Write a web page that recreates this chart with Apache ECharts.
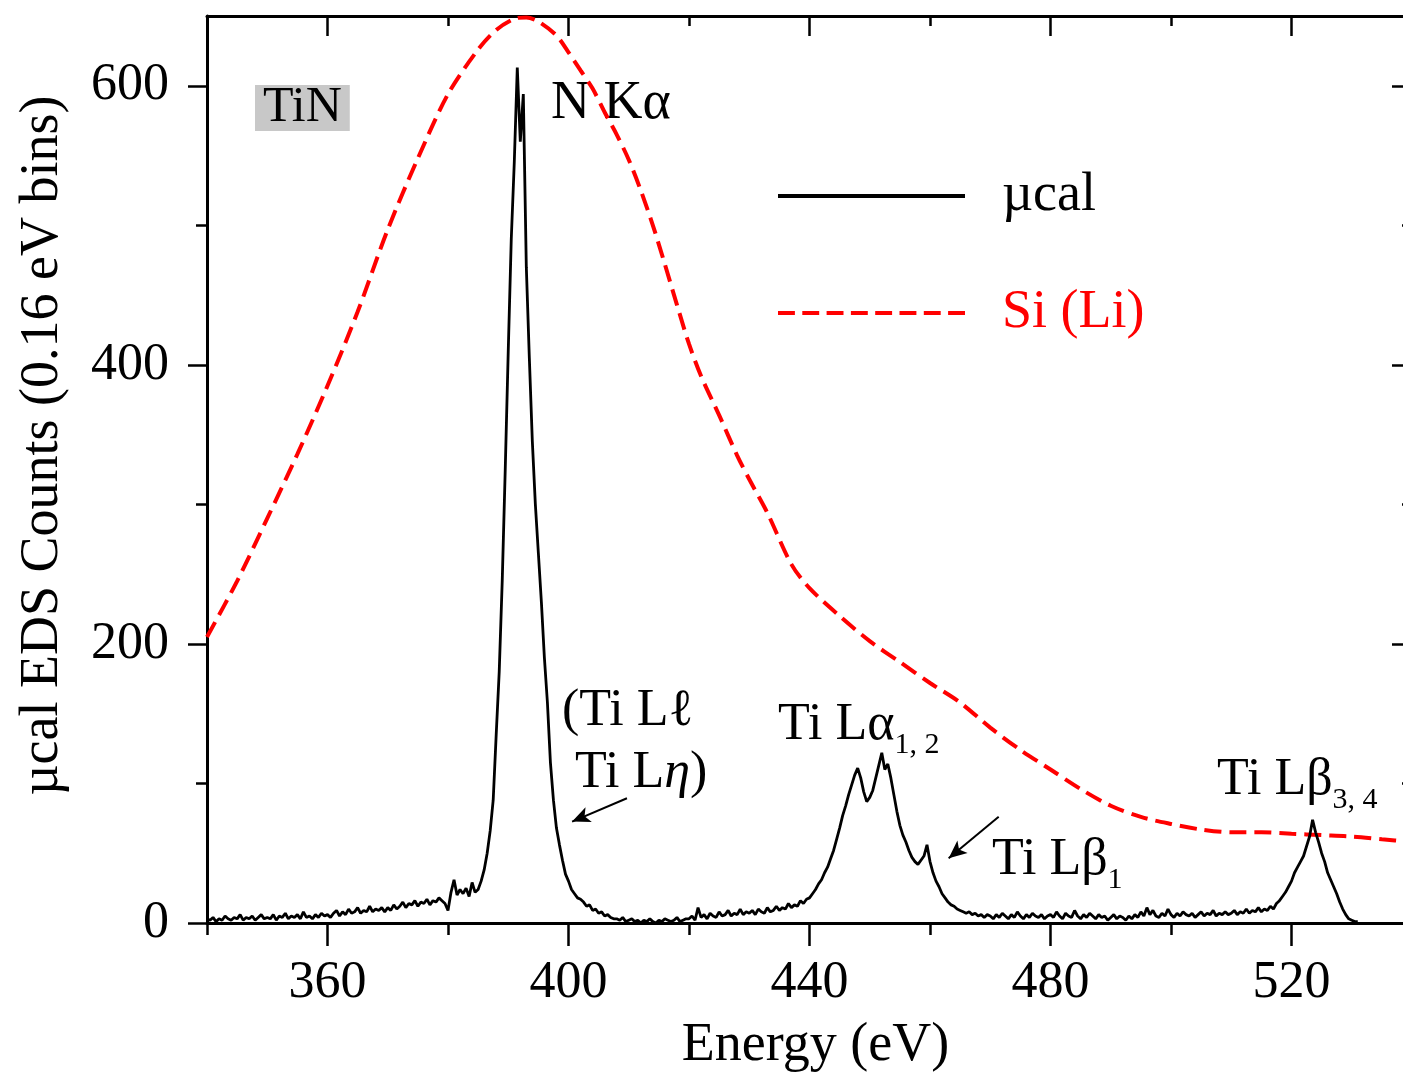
<!DOCTYPE html>
<html>
<head>
<meta charset="utf-8">
<script src="https://cdn.jsdelivr.net/npm/echarts@6/dist/echarts.min.js"></script>
<style>
html, body { margin: 0; padding: 0; background: #fff; }
#chart { width: 1403px; height: 1073px; }
</style>
</head>
<body>
<div id="chart"></div>
<script>
// ucal spectrum in 0.5 eV steps from 340 eV
const muStart = 340;
const muStep = 0.5;
const muCounts = [
    3, 2, 4, 1, 3, 2, 5, 3, 2, 4, 3, 6, 2, 4, 3, 5, 2, 4, 6, 3,              // 340
    4, 3, 6, 2, 5, 4, 7, 3, 5, 4, 6, 3, 8, 4, 5, 3, 6, 4, 7, 5,              // 350
    6, 4, 7, 9, 5, 8, 6, 10, 7, 8, 11, 7, 9, 8, 12, 8, 10, 9, 11, 8,         // 360
    11, 9, 13, 10, 12, 15, 11, 14, 13, 16, 12, 15, 14, 17, 13, 16, 15, 18, 16, 14, // 370
    9, 22, 31, 20, 24, 21, 25, 19, 29, 22, 24, 30, 38, 50, 66, 88, 135, 180, 245, 325, // 380
    410, 490, 545, 613, 560, 594, 470, 405, 345, 300, 265, 230, 190, 158, 115, 88, 68, 56, 45, 35, // 390
    30, 24, 21, 18, 17, 15, 12, 13, 9, 10, 7, 8, 5, 6, 4, 3, 3, 2, 4, 1,     // 400
    2, 3, 1, 2, 0, 2, 1, 3, 1, 0, 2, 1, 3, 2, 1, 2, 4, 1, 2, 3,              // 410
    3, 5, 2, 11, 4, 6, 3, 7, 5, 4, 8, 5, 6, 9, 5, 7, 6, 10, 6, 8,            // 420
    7, 9, 6, 10, 8, 7, 11, 8, 9, 12, 9, 11, 10, 14, 11, 13, 12, 16, 14, 17,  // 430
    18, 21, 24, 28, 31, 36, 40, 46, 52, 60, 68, 77, 84, 92, 99, 106, 111, 104, 94, 87, // 440
    90, 95, 104, 113, 122, 110, 114, 104, 92, 80, 70, 63, 58, 52, 47, 44, 42, 45, 48, 56, // 450
    44, 36, 30, 26, 21, 18, 15, 13, 12, 10, 9, 8, 7, 8, 6, 7, 5, 6, 4, 6,    // 460
    5, 3, 6, 4, 7, 5, 3, 6, 4, 8, 5, 3, 6, 4, 7, 5, 4, 6, 3, 5,              // 470
    6, 4, 8, 5, 3, 7, 5, 4, 9, 5, 3, 6, 4, 7, 5, 3, 6, 4, 5, 2,              // 480
    4, 6, 3, 5, 4, 2, 5, 3, 6, 4, 8, 5, 11, 6, 9, 5, 4, 7, 5, 10,            // 490
    6, 4, 7, 5, 8, 6, 5, 7, 4, 6, 8, 5, 7, 6, 9, 5, 7, 6, 8, 6,              // 500
    7, 9, 6, 8, 7, 10, 7, 9, 8, 11, 8, 10, 9, 12, 10, 14, 16, 19, 22, 26,    // 510
    30, 36, 40, 44, 48, 55, 62, 74, 65, 58, 50, 44, 36, 31, 26, 21, 15, 10, 6, 3, 2, 1, 1 // 520
];

// Si (Li) spectrum
const siEnergy = [340, 345, 350, 355, 360, 365, 370, 375, 380, 385, 388, 391, 393, 395, 398, 400, 402, 404, 406, 408,
    410, 412, 414, 416, 418, 420, 422, 425, 428, 430, 433, 437, 440, 445, 450, 455, 460, 465, 470, 475,
    480, 485, 490, 495, 500, 505, 510, 515, 520, 525, 530, 535, 540];
const siCounts = [205, 245, 290, 336, 385, 438, 497, 548, 594, 626, 640, 648, 649, 646, 636, 624, 611, 598, 581, 565,
    547, 525, 500, 472, 443, 415, 392, 364, 335, 318, 294, 257, 240, 220, 202, 187, 172, 158, 140, 124,
    110, 96, 84, 76, 71, 67, 65, 65, 64, 63, 62, 60, 58];

const xLabels = [360, 400, 440, 480, 520];
const yMajor = [0, 200, 400, 600];
const yMinor = [100, 300, 500];

const font = '"Liberation Serif", "DejaVu Serif", serif';
const black = '#000';
const red = '#ff0000';

const muData = muCounts.map((v, i) => [muStart + i * muStep, v]);
const siData = siEnergy.map((e, i) => [e, siCounts[i]]);

const axisLine = { show: true, onZero: false, lineStyle: { color: black, width: 3 } };
const tickStyle = { color: black, width: 2.5 };

function xAxisOf(pos, inside, majorLen, minorLen) {
    return {
        type: 'value', position: pos, min: 340, max: 540, interval: 40,
        splitLine: { show: false },
        axisLine: axisLine,
        // ticks from min land on 340, 380...: these are the short ones, the minor ones are the long ones
        axisTick: { show: true, inside: inside, length: majorLen, lineStyle: tickStyle },
        minorTick: { show: true, splitNumber: 2, length: minorLen, lineStyle: tickStyle },
        axisLabel: { show: false }
    };
}

function yAxisOf(pos, inside, values, len, showLine) {
    return {
        type: 'value', position: pos, min: 0, max: 650,
        splitLine: { show: false },
        axisLine: showLine ? axisLine : { show: false },
        axisTick: { show: true, inside: inside, customValues: values, length: len, lineStyle: tickStyle },
        axisLabel: { show: false }
    };
}

const xBottom = xAxisOf('bottom', false, 12, 23);
xBottom.axisLabel = { show: true, customValues: xLabels, fontSize: 52, fontFamily: font, color: black, margin: 34 };
xBottom.name = 'Energy (eV)';
xBottom.nameLocation = 'middle';
xBottom.nameGap = 96;
xBottom.nameMoveOverlap = false;
xBottom.nameTextStyle = { fontSize: 54, fontFamily: font, color: black, padding: [0, 0, 0, 12] };

const yLeft = yAxisOf('left', false, yMajor, 19, true);
yLeft.axisLabel = { show: true, customValues: yMajor, fontSize: 52, fontFamily: font, color: black, margin: 38 };
yLeft.name = 'µcal EDS Counts (0.16 eV bins)';
yLeft.nameLocation = 'middle';
yLeft.nameGap = 137;
yLeft.nameMoveOverlap = false;
yLeft.nameTextStyle = { fontSize: 54, fontFamily: font, color: black, padding: [0, 0, 0, 48] };

const dashIcon = 'path://M0,0h16v4h-16z M23,0h16v4h-16z M46,0h16v4h-16z M69,0h16v4h-16z ' +
    'M92,0h16v4h-16z M115,0h16v4h-16z M138,0h16v4h-16z M161,0h16v4h-16z';

// subscript: main text hangs from the top of the line, the small one sits at its bottom
const main = { fontSize: 52, fontFamily: font, fill: black, lineHeight: 52, verticalAlign: 'top' };
const sub = { fontSize: 30, fontFamily: font, fill: black, lineHeight: 61, verticalAlign: 'bottom' };

var chart = echarts.init(document.getElementById('chart'));
chart.setOption({
    animation: false,
    backgroundColor: '#fff',
    grid: { left: 207, right: -9, top: 16, bottom: 150, containLabel: false, outerBoundsMode: 'none' },
    xAxis: [xBottom, xAxisOf('top', true, 10, 20)],
    yAxis: [
        yLeft,
        yAxisOf('left', false, yMinor, 11, false),
        yAxisOf('right', true, yMajor, 20, true),
        yAxisOf('right', true, yMinor, 10, false)
    ],
    legend: {
        orient: 'vertical', left: 773, top: 164,
        itemWidth: 187, itemHeight: 4, itemGap: 63,
        selectedMode: false, symbolKeepAspect: false,
        itemStyle: { borderWidth: 0 },
        textStyle: { fontSize: 54, fontFamily: font, lineHeight: 52, padding: [0, 0, 0, 32] },
        data: [
            { name: 'µcal', icon: 'path://M0,0H187V4H0Z', itemStyle: { color: black }, textStyle: { color: black } },
            { name: 'Si (Li)', icon: dashIcon, itemStyle: { color: red }, textStyle: { color: red } }
        ]
    },
    series: [
        {
            name: 'µcal', type: 'line', data: muData,
            symbol: 'none', z: 3,
            lineStyle: { color: black, width: 2.8 },
            itemStyle: { color: black },
            markLine: {
                silent: true, animation: false,
                symbol: ['none', 'arrow'], symbolSize: [12, 18],
                label: { show: false },
                lineStyle: { color: black, width: 2, type: 'solid' },
                data: [
                    [{ coord: [409.7, 89.4] }, { coord: [400.6, 72.7] }],
                    [{ coord: [471.4, 76.2] }, { coord: [463.1, 46.4] }]
                ]
            }
        },
        {
            name: 'Si (Li)', type: 'line', data: siData,
            smooth: 0.3, symbol: 'none', z: 2,
            lineStyle: { color: red, width: 4, type: [17, 8] },
            itemStyle: { color: red }
        }
    ],
    graphic: [
        {
            type: 'text', x: 255, y: 108,
            style: { text: 'TiN', fontSize: 50, fontFamily: font, fill: black, backgroundColor: '#c8c8c8',
                padding: [3, 8, 3, 8], lineHeight: 40, verticalAlign: 'middle' }
        },
        { type: 'text', x: 551, y: 104, style: { text: 'N Kα', fontSize: 54, fontFamily: font, fill: black, verticalAlign: 'middle' } },
        { type: 'text', x: 562, y: 711, style: { text: '(Ti Lℓ', fontSize: 52, fontFamily: font, fill: black, verticalAlign: 'middle' } },
        {
            type: 'text', x: 575, y: 773,
            style: {
                text: '{a|Ti L}{i|η}{a|)}', verticalAlign: 'middle',
                rich: {
                    a: { fontSize: 52, fontFamily: font, fill: black },
                    i: { fontSize: 52, fontFamily: font, fill: black, fontStyle: 'italic' }
                }
            }
        },
        { type: 'text', x: 778, y: 699, style: { text: '{m|Ti Lα}{s|1, 2}', verticalAlign: 'top', rich: { m: main, s: sub } } },
        { type: 'text', x: 992, y: 834, style: { text: '{m|Ti Lβ}{s|1}', verticalAlign: 'top', rich: { m: main, s: sub } } },
        { type: 'text', x: 1217, y: 754, style: { text: '{m|Ti Lβ}{s|3, 4}', verticalAlign: 'top', rich: { m: main, s: sub } } }
    ]
});
</script>
</body>
</html>
